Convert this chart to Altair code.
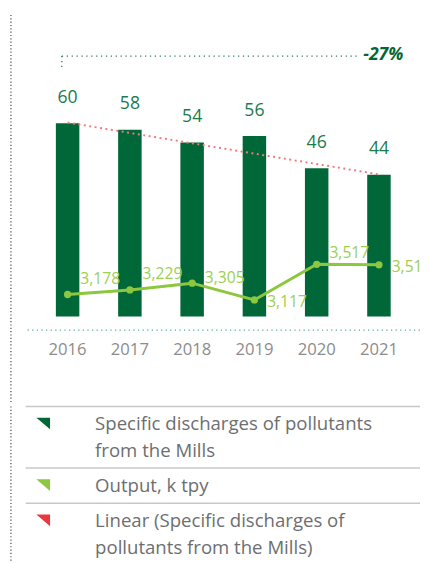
import altair as alt
import pandas as pd

# ---------------- data ----------------
years = ["2016", "2017", "2018", "2019", "2020", "2021"]
discharges = [60, 58, 54, 56, 46, 44]
output_ktpy = [3178, 3229, 3305, 3117, 3517, 3512]
trend_years = ["2016", "2021"]
trend_values = [60.2, 44.1]
change_label = ["-27%"]
legend_labels = [
    "Specific discharges of pollutants\nfrom the Mills",
    "Output, k tpy",
    "Linear (Specific discharges of\npollutants from the Mills)",
]
legend_colors = ["#006838", "#8dc63f", "#e8383d"]

# ---------------- style ----------------
FONT = "Open Sans"
DARK = "#006838"
LABEL_DARK = "#1b7a4e"
LIME = "#8dc63f"
LIME_TXT = "#9bd052"
RED = "#f07a7a"
GRAY_TXT = "#6d6e71"
W, H1, H2 = 421, 308, 158
BAR_PX = 3.29      # px per unit of discharges
LINE_PX = 0.0909   # px per k t of output
LINE_MIN = 2932

df = pd.DataFrame({"year": years, "discharges": discharges, "output": output_ktpy})
trend_df = pd.DataFrame({"year": trend_years, "trend": trend_values})
one = pd.DataFrame({"label": change_label})

xenc = alt.X(
    "year:N",
    sort=years,
    scale=alt.Scale(paddingInner=0.623, paddingOuter=0.62, align=0.62),
    axis=alt.Axis(
        title=None, domain=False, ticks=False, grid=False, labelAngle=0,
        labelFont=FONT, labelFontSize=17, labelColor="#8c8c8c",
        labelPadding=34, labelBaseline="middle",
    ),
)
ybar = alt.Y("discharges:Q", scale=alt.Scale(domain=[0, H1 / BAR_PX], nice=False, zero=False), axis=None)
ytrend = alt.Y("trend:Q", scale=alt.Scale(domain=[0, H1 / BAR_PX], nice=False, zero=False), axis=None)
yline = alt.Y("output:Q", scale=alt.Scale(domain=[LINE_MIN, LINE_MIN + H1 / LINE_PX], nice=False, zero=False), axis=None)

base = alt.Chart(df)

bars = base.mark_bar(color=DARK, size=24).encode(x=xenc, y=ybar)
bar_labels = base.mark_text(
    font=FONT, fontSize=18, color=LABEL_DARK, baseline="alphabetic", dy=-21
).encode(x=xenc, y=ybar, text=alt.Text("discharges:Q"))

trend = alt.Chart(trend_df).mark_line(
    color=RED, strokeWidth=2, strokeDash=[2, 3.6]
).encode(x=xenc, y=ytrend)

line = base.mark_line(color=LIME, strokeWidth=3).encode(x=xenc, y=yline)
points = base.mark_circle(color=LIME, size=55, opacity=1).encode(x=xenc, y=yline)

label_dy = {"2016": -16, "2017": -16, "2018": -5, "2019": 2, "2020": -11, "2021": 2}
line_label_layers = []
for yr in years:
    line_label_layers.append(
        base.transform_filter(alt.datum.year == yr).mark_text(
            font=FONT, fontSize=16, color=LIME_TXT, align="left", baseline="middle",
            dx=13, dy=label_dy[yr], clip=True,
        ).encode(x=xenc, y=yline, text=alt.Text("output:Q", format=","))
    )

# decorations
ann_h = alt.Chart(one).mark_rule(color="#2e7d5b", strokeWidth=1.3, strokeDash=[1.3, 3.7]).encode(
    x=alt.value(55), x2=alt.value(360), y=alt.value(42))
ann_v = alt.Chart(one).mark_rule(color="#2e7d5b", strokeWidth=1.3, strokeDash=[1.3, 3.7]).encode(
    x=alt.value(55), y=alt.value(42), y2=alt.value(54))
ann_t = alt.Chart(one).mark_text(
    font=FONT, fontSize=18, fontWeight="bold", fontStyle="italic", color=DARK,
    align="left", baseline="middle"
).encode(x=alt.value(363), y=alt.value(41), text="label:N")
base_rule = alt.Chart(one).mark_rule(color="#5aae8c", strokeWidth=1.3, strokeDash=[1.3, 3.4]).encode(
    x=alt.value(20), x2=alt.value(W), y=alt.value(322))
left_rule1 = alt.Chart(one).mark_rule(color="#444444", strokeWidth=1.2, strokeDash=[1.2, 2.2]).encode(
    x=alt.value(3), y=alt.value(0), y2=alt.value(397.7))

panel1 = alt.layer(
    left_rule1, ann_h, ann_v, ann_t, base_rule,
    bars, bar_labels, trend, line, points, *line_label_layers,
).resolve_scale(y="independent").properties(width=W, height=H1)

# ---------------- legend panel ----------------
leg = pd.DataFrame({"label": legend_labels, "color": legend_colors})
row_h = (leg["label"].str.count("\n") + 1) * 27 + 9
leg["top"] = [0] + list(row_h.cumsum()[:-1])

yleg = alt.Scale(domain=[0, H2], reverse=True, nice=False, zero=False)
lbase = alt.Chart(leg)
seps = lbase.mark_rule(color="#c8c8c8", strokeWidth=1.5).encode(
    y=alt.Y("top:Q", scale=yleg, axis=None), x=alt.value(18), x2=alt.value(W))
syms = lbase.transform_calculate(sym="datum.top + 17.4").mark_point(
    shape="M-1,-0.85L1,-0.85L1,0.85Z", filled=True, size=196, opacity=1, strokeWidth=0
).encode(
    y=alt.Y("sym:Q", scale=yleg, axis=None), x=alt.value(36),
    color=alt.Color("color:N", scale=None),
)
texts = lbase.mark_text(
    font=FONT, fontSize=19, color=GRAY_TXT, align="left", baseline="alphabetic",
    dy=24.3, lineBreak="\n", lineHeight=27,
).encode(y=alt.Y("top:Q", scale=yleg, axis=None), x=alt.value(89), text="label:N")
left_rule2 = alt.Chart(one).mark_rule(color="#444444", strokeWidth=1.2, strokeDash=[1.2, 2.2]).encode(
    x=alt.value(3), y=alt.value(0), y2=alt.value(H2))

panel2 = alt.layer(left_rule2, seps, syms, texts).properties(width=W, height=H2)

chart = alt.vconcat(panel1, panel2, spacing=0).properties(padding=0).configure_view(stroke=None)

chart.save("out.html", embed_options={"renderer": "svg", "actions": False})
